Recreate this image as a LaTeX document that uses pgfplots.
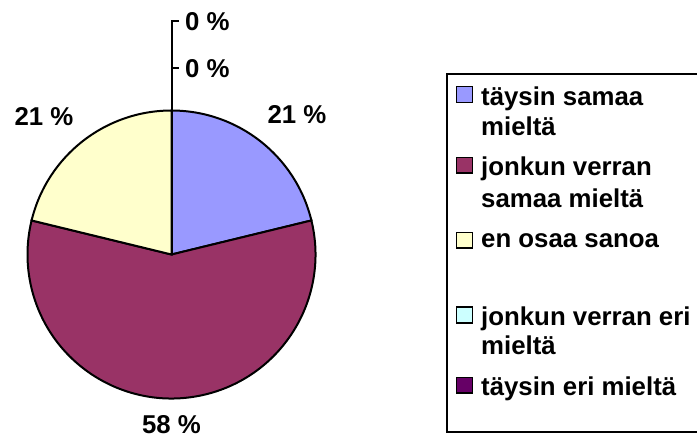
\documentclass[border=0pt]{standalone}
\usepackage{fontspec}
\setmainfont{Liberation Sans}
\usepackage{pgfplots}
\usepackage{pgfplotstable}
\pgfplotsset{compat=1.18}

\definecolor{pieA}{HTML}{9999FF}
\definecolor{pieB}{HTML}{993366}
\definecolor{pieC}{HTML}{FFFFCC}
\definecolor{pieD}{HTML}{CCFFFF}
\definecolor{pieE}{HTML}{660066}

\pgfplotstableread{
idx value
0 21.2
1 57.6
2 21.2
3 0
4 0
}\piedata

\pgfplotstablegetelem{0}{value}\of\piedata \let\va\pgfplotsretval
\pgfplotstablegetelem{1}{value}\of\piedata \let\vb\pgfplotsretval
\pgfplotstablegetelem{2}{value}\of\piedata \let\vc\pgfplotsretval
\pgfplotstablegetelem{3}{value}\of\piedata \let\vd\pgfplotsretval
\pgfplotstablegetelem{4}{value}\of\piedata \let\ve\pgfplotsretval
\pgfmathsetmacro\aA{90}
\pgfmathsetmacro\aB{\aA-3.6*\va}
\pgfmathsetmacro\aC{\aB-3.6*\vb}
\pgfmathsetmacro\aD{\aC-3.6*\vc}
\pgfmathsetmacro\aE{\aD-3.6*\vd}
\pgfmathsetmacro\aF{\aE-3.6*\ve}

\begin{document}
\begin{tikzpicture}[font=\fontsize{25.8bp}{30bp}\selectfont\bfseries]
\useasboundingbox (0,0) rectangle (697bp,438bp);
\clip (0,0) rectangle (697bp,438bp);
\begin{axis}[
  at={(0,0)}, anchor=south west,
  x=1bp, y=1bp, xmin=0, xmax=697, ymin=0, ymax=438,
  y dir=reverse, hide axis, clip=false,
]
% pie slices (clockwise from top)
\filldraw[fill=pieA, draw=black, line width=2bp] (axis cs:171.5,254.5) -- ++(\aA:144bp) arc[start angle=\aA, end angle=\aB, radius=144bp] -- cycle;
\filldraw[fill=pieB, draw=black, line width=2bp] (axis cs:171.5,254.5) -- ++(\aB:144bp) arc[start angle=\aB, end angle=\aC, radius=144bp] -- cycle;
\filldraw[fill=pieC, draw=black, line width=2bp] (axis cs:171.5,254.5) -- ++(\aC:144bp) arc[start angle=\aC, end angle=\aD, radius=144bp] -- cycle;
\filldraw[fill=pieD, draw=black, line width=2bp] (axis cs:171.5,254.5) -- ++(\aD:144bp) -- cycle;
\filldraw[fill=pieE, draw=black, line width=2bp] (axis cs:171.5,254.5) -- ++(\aE:144bp) -- cycle;

% leader lines for zero slices
\draw[line width=2.2bp] (axis cs:179,21) -- (axis cs:172,21) -- (axis cs:172,111);
\draw[line width=2.2bp] (axis cs:172,68) -- (axis cs:179,68);

% data labels
\node[anchor=base west, inner sep=0] at (axis cs:185,30) {0 \%};
\node[anchor=base west, inner sep=0] at (axis cs:185,77) {0 \%};
\node[anchor=base, inner sep=0] at (axis cs:297,123) {21 \%};
\node[anchor=base, inner sep=0] at (axis cs:44,125) {21 \%};
\node[anchor=base, inner sep=0] at (axis cs:171.5,433) {58 \%};

% legend
\draw[line width=2bp] (axis cs:720,74) -- (axis cs:447,74) -- (axis cs:447,432) -- (axis cs:720,432);
\filldraw[fill=pieA, draw=black, line width=1.8bp] (axis cs:456.5,86.5) rectangle (axis cs:472.5,102.5);
\filldraw[fill=pieB, draw=black, line width=1.8bp] (axis cs:456.5,157.5) rectangle (axis cs:472.5,173);
\filldraw[fill=pieC, draw=black, line width=1.8bp] (axis cs:456.5,232.5) rectangle (axis cs:472.5,248);
\filldraw[fill=pieD, draw=black, line width=1.8bp] (axis cs:456.5,307) rectangle (axis cs:472.5,323);
\filldraw[fill=pieE, draw=black, line width=1.8bp] (axis cs:456.5,377.5) rectangle (axis cs:472.5,393);
\node[anchor=base west, inner sep=0] at (axis cs:481,105) {täysin samaa};
\node[anchor=base west, inner sep=0] at (axis cs:481,135) {mieltä};
\node[anchor=base west, inner sep=0] at (axis cs:481,175) {jonkun verran};
\node[anchor=base west, inner sep=0] at (axis cs:481,207) {samaa mieltä};
\node[anchor=base west, inner sep=0] at (axis cs:481,247) {en osaa sanoa};
\node[anchor=base west, inner sep=0] at (axis cs:481,325) {jonkun verran eri};
\node[anchor=base west, inner sep=0] at (axis cs:481,354) {mieltä};
\node[anchor=base west, inner sep=0] at (axis cs:481,395) {täysin eri mieltä};
\end{axis}
\end{tikzpicture}
\end{document}
